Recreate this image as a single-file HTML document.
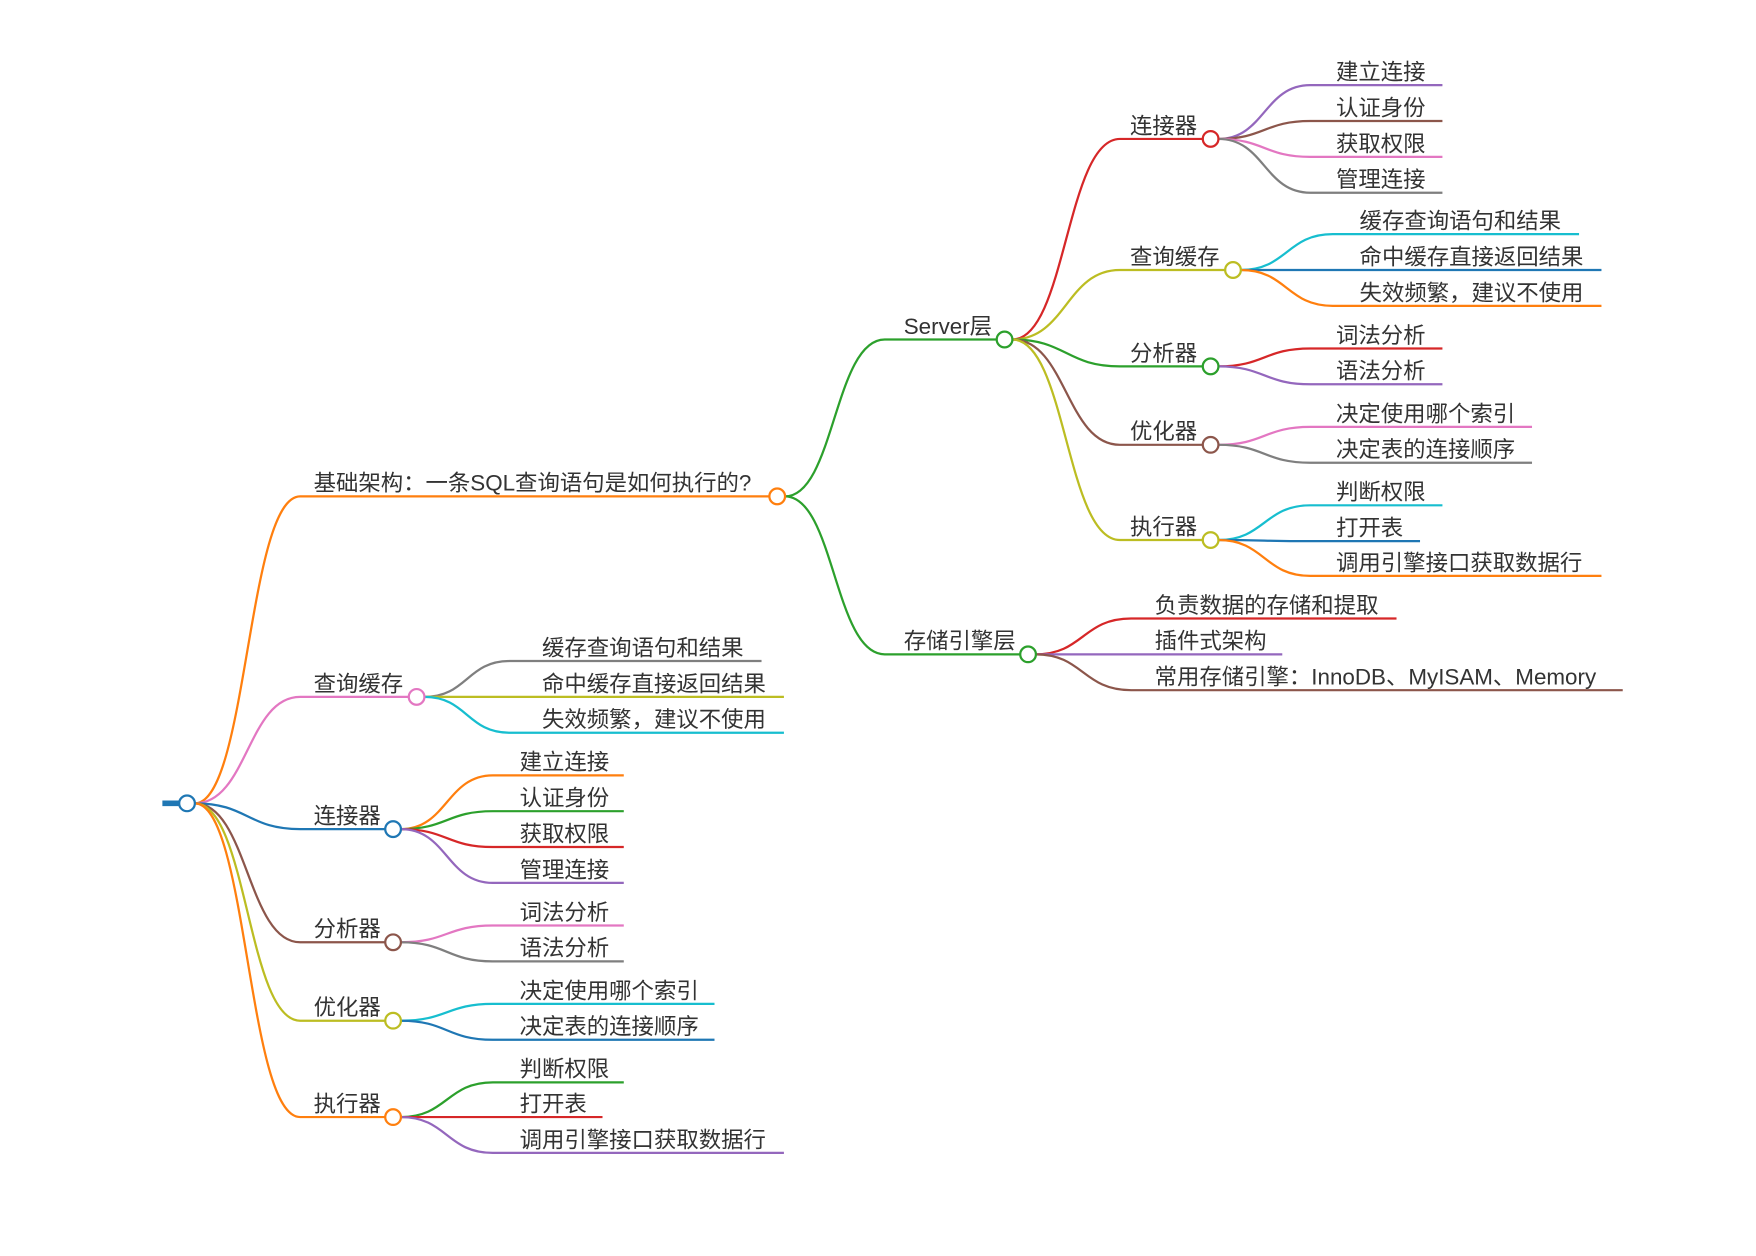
<!DOCTYPE html>
<html><head><meta charset="utf-8"><style>
html,body{margin:0;padding:0;background:#fff;}
svg{display:block;}
text{font-family:"Liberation Sans","Noto Sans CJK SC",sans-serif;font-size:20px;fill:#333;}
path{fill:none;stroke-width:2;}
circle{fill:#fff;stroke-width:2;}
</style></head><body>
<svg width="1756" height="1256" viewBox="0 0 1568 1121" preserveAspectRatio="none" xmlns="http://www.w3.org/2000/svg">
<line x1="145" y1="717" x2="162" y2="717" stroke="#1f77b4" stroke-width="5"/>
<!-- root edges -->
<path stroke="#ff7f0e" d="M174 717 C221 717 221 443 268 443 H687"/>
<path stroke="#e377c2" d="M174 717 C221 717 221 622 268 622 H365"/>
<path stroke="#1f77b4" d="M174 717 C221 717 221 740 268 740 H344"/>
<path stroke="#8c564b" d="M174 717 C221 717 221 841 268 841 H344"/>
<path stroke="#bcbd22" d="M174 717 C221 717 221 911 268 911 H344"/>
<path stroke="#ff7f0e" d="M174 717 C221 717 221 997 268 997 H344"/>
<!-- 查询缓存 left -->
<path stroke="#7f7f7f" d="M379 622 C417 622 417 590 455 590 H680"/>
<path stroke="#bcbd22" d="M379 622 C417 622 417 622 455 622 H700"/>
<path stroke="#17becf" d="M379 622 C417 622 417 654 455 654 H700"/>
<!-- 连接器 left -->
<path stroke="#ff7f0e" d="M358 740 C399 740 399 692 440 692 H557"/>
<path stroke="#2ca02c" d="M358 740 C399 740 399 724 440 724 H557"/>
<path stroke="#d62728" d="M358 740 C399 740 399 756 440 756 H557"/>
<path stroke="#9467bd" d="M358 740 C399 740 399 788 440 788 H557"/>
<!-- 分析器 left -->
<path stroke="#e377c2" d="M358 841 C399 841 399 826 440 826 H557"/>
<path stroke="#7f7f7f" d="M358 841 C399 841 399 858 440 858 H557"/>
<!-- 优化器 left -->
<path stroke="#17becf" d="M358 911 C399 911 399 896 440 896 H638"/>
<path stroke="#1f77b4" d="M358 911 C399 911 399 928 440 928 H638"/>
<!-- 执行器 left -->
<path stroke="#2ca02c" d="M358 997 C399 997 399 966 440 966 H557"/>
<path stroke="#d62728" d="M358 997 C399 997 399 997 440 997 H538"/>
<path stroke="#9467bd" d="M358 997 C399 997 399 1029 440 1029 H700"/>
<!-- right -->
<path stroke="#2ca02c" d="M701 443 C745 443 745 303 790 303 H890"/>
<path stroke="#2ca02c" d="M701 443 C745 443 745 584 790 584 H911"/>
<path stroke="#d62728" d="M904 303 C952 303 952 124 1000 124 H1074"/>
<path stroke="#bcbd22" d="M904 303 C952 303 952 241 1000 241 H1094"/>
<path stroke="#2ca02c" d="M904 303 C952 303 952 327 1000 327 H1074"/>
<path stroke="#8c564b" d="M904 303 C952 303 952 397 1000 397 H1074"/>
<path stroke="#bcbd22" d="M904 303 C952 303 952 482 1000 482 H1074"/>
<path stroke="#9467bd" d="M1088 124 C1129 124 1129 76 1170 76 H1288"/>
<path stroke="#8c564b" d="M1088 124 C1129 124 1129 108 1170 108 H1288"/>
<path stroke="#e377c2" d="M1088 124 C1129 124 1129 140 1170 140 H1288"/>
<path stroke="#7f7f7f" d="M1088 124 C1129 124 1129 172 1170 172 H1288"/>
<path stroke="#17becf" d="M1108 241 C1149 241 1149 209 1190 209 H1410"/>
<path stroke="#1f77b4" d="M1108 241 C1149 241 1149 241 1190 241 H1430"/>
<path stroke="#ff7f0e" d="M1108 241 C1149 241 1149 273 1190 273 H1430"/>
<path stroke="#d62728" d="M1088 327 C1129 327 1129 311 1170 311 H1288"/>
<path stroke="#9467bd" d="M1088 327 C1129 327 1129 343 1170 343 H1288"/>
<path stroke="#e377c2" d="M1088 397 C1129 397 1129 381 1170 381 H1368"/>
<path stroke="#7f7f7f" d="M1088 397 C1129 397 1129 413 1170 413 H1368"/>
<path stroke="#17becf" d="M1088 482 C1129 482 1129 451 1170 451 H1288"/>
<path stroke="#1f77b4" d="M1088 482 C1129 482 1129 483 1170 483 H1268"/>
<path stroke="#ff7f0e" d="M1088 482 C1129 482 1129 514 1170 514 H1430"/>
<path stroke="#d62728" d="M925 584 C967 584 967 552 1010 552 H1247"/>
<path stroke="#9467bd" d="M925 584 C967 584 967 584 1010 584 H1145"/>
<path stroke="#8c564b" d="M925 584 C967 584 967 616 1010 616 H1449"/>
<!-- circles -->
<circle cx="167" cy="717" r="7" stroke="#1f77b4"/>
<circle cx="694" cy="443" r="7" stroke="#ff7f0e"/>
<circle cx="372" cy="622" r="7" stroke="#e377c2"/>
<circle cx="351" cy="740" r="7" stroke="#1f77b4"/>
<circle cx="351" cy="841" r="7" stroke="#8c564b"/>
<circle cx="351" cy="911" r="7" stroke="#bcbd22"/>
<circle cx="351" cy="997" r="7" stroke="#ff7f0e"/>
<circle cx="897" cy="303" r="7" stroke="#2ca02c"/>
<circle cx="918" cy="584" r="7" stroke="#2ca02c"/>
<circle cx="1081" cy="124" r="7" stroke="#d62728"/>
<circle cx="1101" cy="241" r="7" stroke="#bcbd22"/>
<circle cx="1081" cy="327" r="7" stroke="#2ca02c"/>
<circle cx="1081" cy="397" r="7" stroke="#8c564b"/>
<circle cx="1081" cy="482" r="7" stroke="#bcbd22"/>
<!-- texts -->
<text x="280" y="438">基础架构：一条SQL查询语句是如何执行的?</text>
<text x="280" y="617">查询缓存</text>
<text x="280" y="735">连接器</text>
<text x="280" y="836">分析器</text>
<text x="280" y="906">优化器</text>
<text x="280" y="992">执行器</text>
<text x="484" y="585">缓存查询语句和结果</text>
<text x="484" y="617">命中缓存直接返回结果</text>
<text x="484" y="649">失效频繁，建议不使用</text>
<text x="464" y="687">建立连接</text>
<text x="464" y="719">认证身份</text>
<text x="464" y="751">获取权限</text>
<text x="464" y="783">管理连接</text>
<text x="464" y="821">词法分析</text>
<text x="464" y="853">语法分析</text>
<text x="464" y="891">决定使用哪个索引</text>
<text x="464" y="923">决定表的连接顺序</text>
<text x="464" y="961">判断权限</text>
<text x="464" y="992">打开表</text>
<text x="464" y="1024">调用引擎接口获取数据行</text>
<text x="807" y="298">Server层</text>
<text x="807" y="579">存储引擎层</text>
<text x="1009" y="119">连接器</text>
<text x="1009" y="236">查询缓存</text>
<text x="1009" y="322">分析器</text>
<text x="1009" y="392">优化器</text>
<text x="1009" y="477">执行器</text>
<text x="1193" y="71">建立连接</text>
<text x="1193" y="103">认证身份</text>
<text x="1193" y="135">获取权限</text>
<text x="1193" y="167">管理连接</text>
<text x="1214" y="204">缓存查询语句和结果</text>
<text x="1214" y="236">命中缓存直接返回结果</text>
<text x="1214" y="268">失效频繁，建议不使用</text>
<text x="1193" y="306">词法分析</text>
<text x="1193" y="338">语法分析</text>
<text x="1193" y="376">决定使用哪个索引</text>
<text x="1193" y="408">决定表的连接顺序</text>
<text x="1193" y="446">判断权限</text>
<text x="1193" y="478">打开表</text>
<text x="1193" y="509">调用引擎接口获取数据行</text>
<text x="1031" y="547">负责数据的存储和提取</text>
<text x="1031" y="579">插件式架构</text>
<text x="1031" y="611">常用存储引擎：InnoDB、MyISAM、Memory</text>
</svg>
</body></html>
